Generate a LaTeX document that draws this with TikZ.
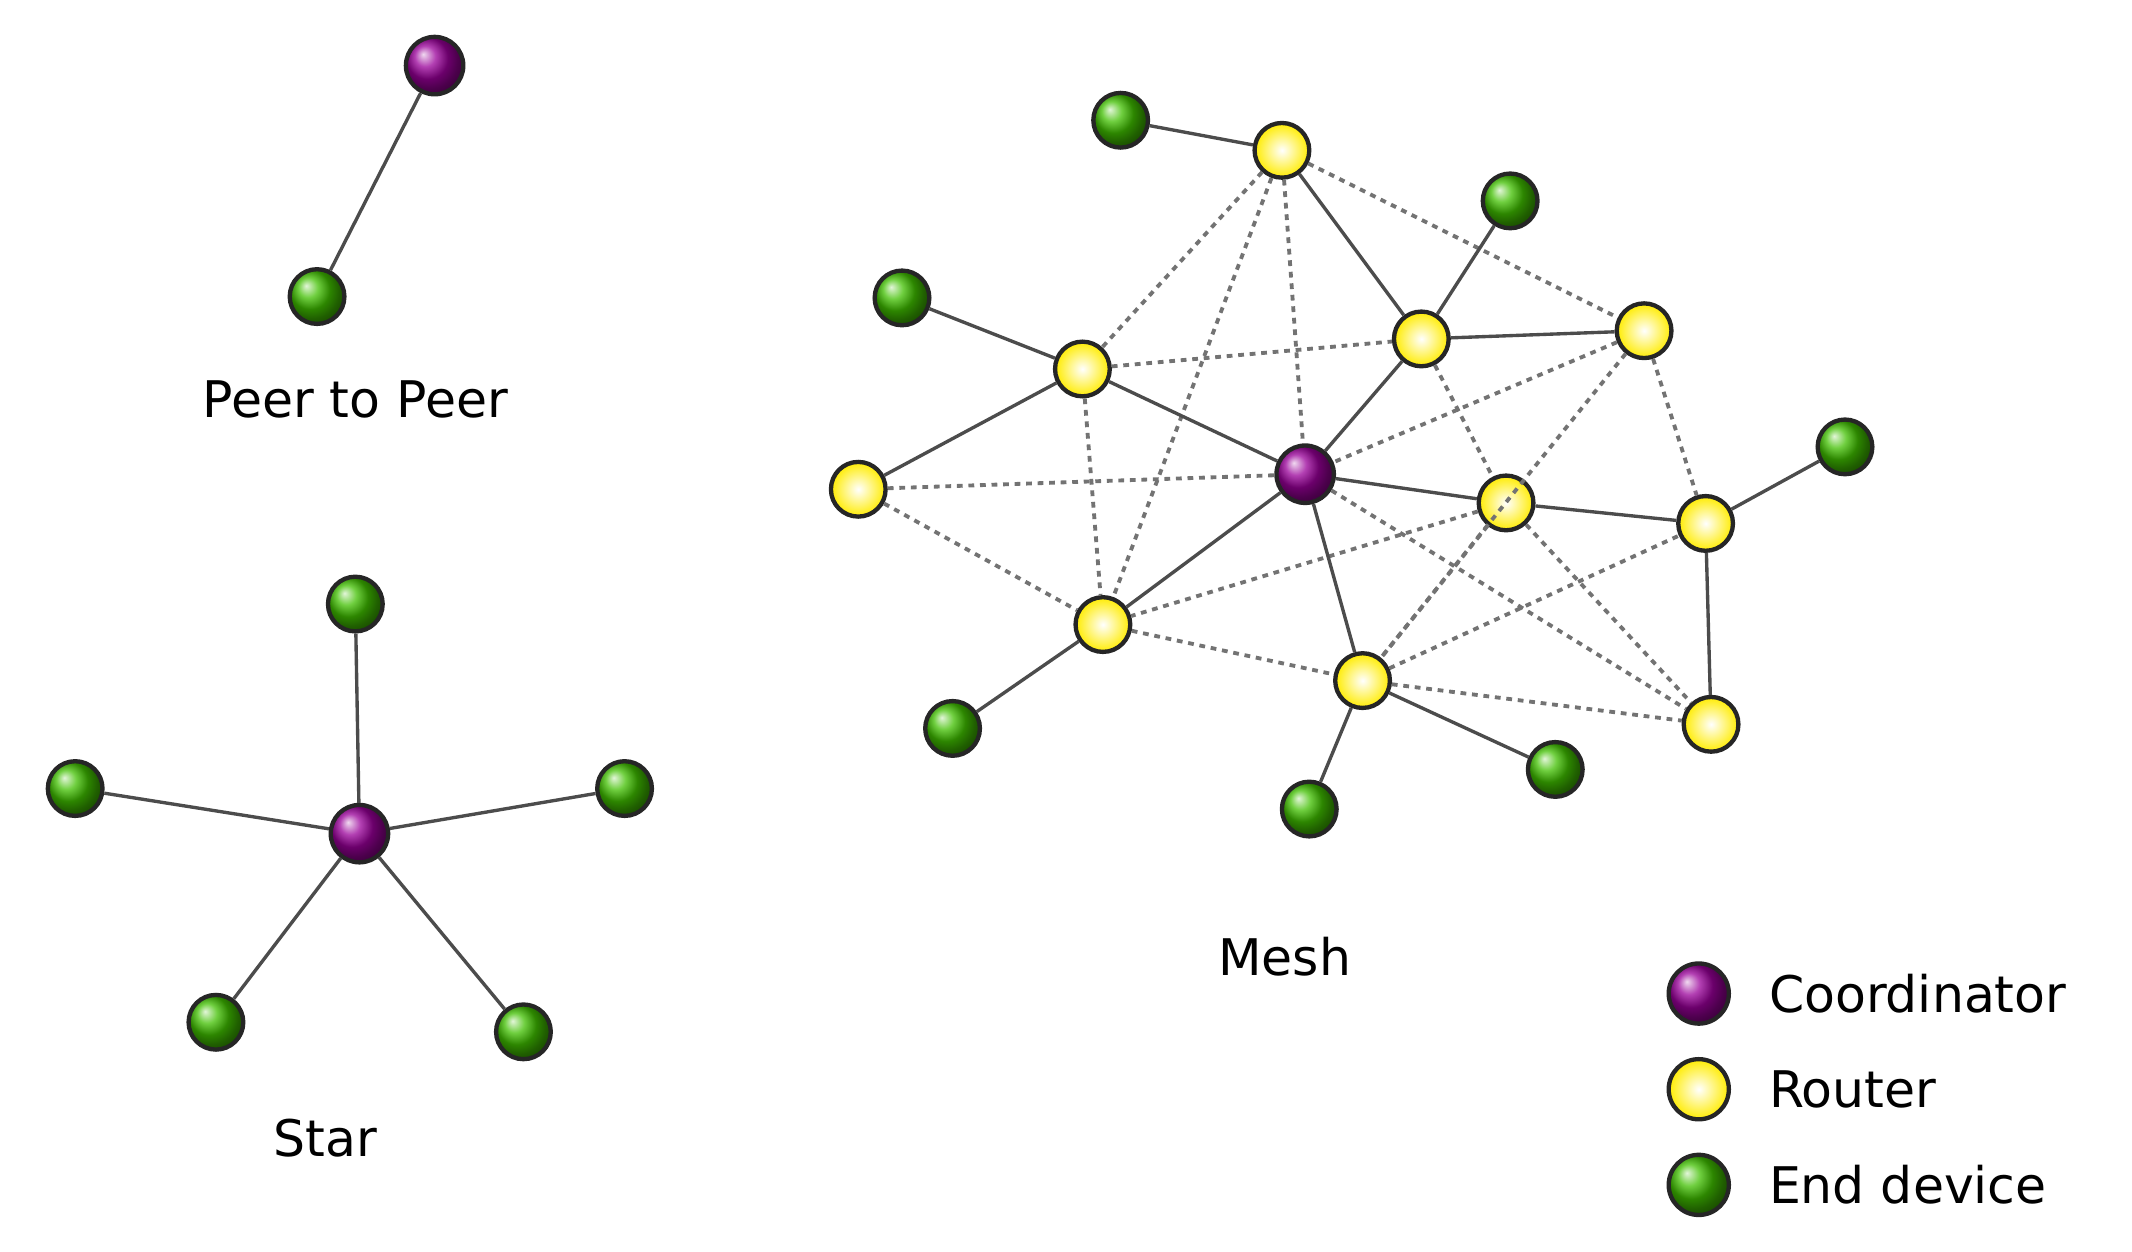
\documentclass[tikz,border=0pt]{standalone}
\usepackage{fontspec}
\setmainfont{DejaVu Sans}
\begin{document}
\begin{tikzpicture}[x=0.01cm,y=-0.01cm,
  dev/.style={circle,draw=black!85,line width=0.9pt,minimum size=0.4cm,inner sep=0pt},
  coord/.style={dev,ball color=violet!80!magenta,minimum size=0.42cm},
  rout/.style={dev,shade,inner color=white,outer color=yellow!85!orange},
  endd/.style={dev,ball color=green!50!olive},
  sl/.style={draw=black!70,line width=0.7pt},
  dl/.style={draw=black!55,line width=0.8pt,dash pattern=on 1.2pt off 1.2pt},
  lab/.style={font=\fontsize{10.5}{12}\selectfont}]
\useasboundingbox (0,0) rectangle (1560,916);
% Peer to peer
\node[coord] (pc) at (318,48) {};
\node[endd] (pe) at (232,217) {};
\draw[sl] (pc) -- (pe);
\node[lab] (lp) at (260,292) {Peer to Peer};
% Star
\node[coord] (sc) at (263,610) {};
\node[endd] (s1) at (260,442) {};
\node[endd] (s2) at (55,577) {};
\node[endd] (s3) at (457,577) {};
\node[endd] (s4) at (158,748) {};
\node[endd] (s5) at (383,755) {};
\foreach \e in {s1,s2,s3,s4,s5} \draw[sl] (sc) -- (\e);
\node[lab] (ls) at (238,833) {Star};
% Mesh
\node[coord] (m) at (955,347) {};
\node[rout] (r1) at (938,110) {};
\node[rout] (r2) at (792,270) {};
\node[rout] (r3) at (1040,248) {};
\node[rout] (r4) at (1203,242) {};
\node[rout] (r5) at (628,358) {};
\node[rout] (r6) at (1102,368) {};
\node[rout] (r7) at (1248,383) {};
\node[rout] (r8) at (807,457) {};
\node[rout] (r9) at (997,498) {};
\node[rout] (r10) at (1252,530) {};
\node[endd] (e1) at (820,88) {};
\node[endd] (e2) at (1105,147) {};
\node[endd] (e3) at (660,218) {};
\node[endd] (e4) at (1350,327) {};
\node[endd] (e5) at (697,533) {};
\node[endd] (e6) at (958,592) {};
\node[endd] (e7) at (1138,563) {};
\begin{scope}[on background layer/.style={}]
\end{scope}
\foreach \a/\b in {r1/r2,r1/r8,r1/m,r1/r4,r2/r3,r2/r8,r5/m,r5/r8,r3/r6,r4/m,r4/r9,r4/r7,m/r10,r6/r8,r6/r9,r6/r10,r9/r7,r8/r9,r9/r10}
  \draw[dl] (\a) -- (\b);
\foreach \a/\b in {r1/e1,r1/r3,r3/e2,r3/r4,r3/m,r2/e3,r2/m,r2/r5,m/r6,r6/r7,r7/e4,r7/r10,m/r8,r8/e5,m/r9,r9/e6,r9/e7}
  \draw[sl] (\a) -- (\b);
\node[lab] (lm) at (940,700) {Mesh};
% Legend
\node[coord,minimum size=0.44cm] (k1) at (1243,727) {};
\node[rout,minimum size=0.44cm] (k2) at (1243,797) {};
\node[endd,minimum size=0.44cm] (k3) at (1243,867) {};
\node[lab,anchor=west] (t1) at (1282,727) {Coordinator};
\node[lab,anchor=west] (t2) at (1282,797) {Router};
\node[lab,anchor=west] (t3) at (1282,867) {End device};
\end{tikzpicture}
\end{document}
